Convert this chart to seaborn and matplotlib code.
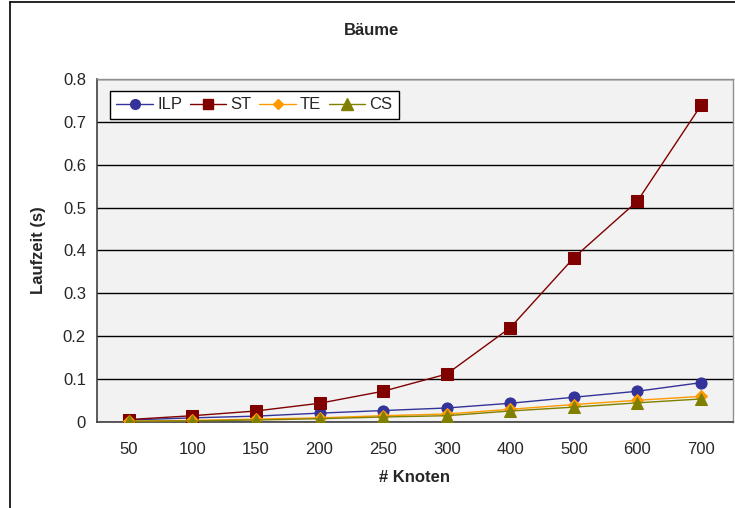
import numpy as np
import pandas as pd
import matplotlib.pyplot as plt
import seaborn as sns
from matplotlib.ticker import FixedLocator
from matplotlib.lines import Line2D

# data
knoten = ['50', '100', '150', '200', '250', '300', '400', '500', '600', '700']
ilp = [0.005, 0.010, 0.014, 0.021, 0.027, 0.033, 0.044, 0.058, 0.072, 0.092]
st = [0.006, 0.015, 0.026, 0.044, 0.072, 0.112, 0.220, 0.383, 0.515, 0.738]
te = [0.002, 0.004, 0.007, 0.010, 0.015, 0.019, 0.030, 0.041, 0.051, 0.060]
cs = [0.002, 0.003, 0.005, 0.008, 0.012, 0.015, 0.026, 0.035, 0.045, 0.054]
algos = ['ILP', 'ST', 'TE', 'CS']
yticks = [0, 0.1, 0.2, 0.3, 0.4, 0.5, 0.6, 0.7, 0.8]
ylabels = ['0', '0.1', '0.2', '0.3', '0.4', '0.5', '0.6', '0.7', '0.8']
colors = {'ILP': '#333399', 'ST': '#800000', 'TE': '#FF9900', 'CS': '#808000'}
markers = {'ILP': 'o', 'ST': 's', 'TE': 'D', 'CS': '^'}
sizes = {'ILP': 8, 'ST': 8, 'TE': 6.5, 'CS': 9}

df = pd.DataFrame({'Knoten': knoten * 4,
                   'Laufzeit': ilp + st + te + cs,
                   'Algo': np.repeat(algos, len(knoten))})

sns.set_style('white')
plt.rcParams['font.family'] = ['Liberation Sans', 'DejaVu Sans']

fig = plt.figure(figsize=(7.35, 5.08), dpi=100)
ax = fig.add_axes([0.132, 0.169, 0.865, 0.676])
ax.set_facecolor('#f2f2f2')

for a in algos:
    sub = df[df['Algo'] == a]
    sns.lineplot(data=sub, x='Knoten', y='Laufzeit', ax=ax, color=colors[a],
                 marker=markers[a], markersize=sizes[a], markeredgecolor=colors[a],
                 linewidth=1, label=a, sort=False, zorder=3)

ax.set_xlim(-0.5, len(knoten) - 0.5)
ax.set_yticks(yticks)
ax.set_yticklabels(ylabels)
ax.set_ylim(0, 0.8)
ax.xaxis.set_minor_locator(FixedLocator(np.arange(-0.5, len(knoten), 1)))
ax.tick_params(axis='x', which='major', length=0, pad=14, labelsize=12)
ax.tick_params(axis='x', which='minor', length=5, width=1, color='black', direction='out')
ax.tick_params(axis='y', length=5, width=1, color='black', direction='out', labelsize=12, pad=3)
ax.grid(axis='y', color='black', linewidth=1)
ax.set_axisbelow(True)
for s in ['left', 'bottom']:
    ax.spines[s].set_color('#404040')
    ax.spines[s].set_linewidth(1.2)
for s in ['top', 'right']:
    ax.spines[s].set_color('#909090')
    ax.spines[s].set_linewidth(1)

ax.set_xlabel('# Knoten', fontsize=12, fontweight='bold', labelpad=10)
ax.set_ylabel('Laufzeit (s)', fontsize=12, fontweight='bold', labelpad=12)
fig.text(0.506, 0.94, 'Bäume', ha='center', va='center', fontsize=12, fontweight='bold')

handles = [Line2D([], [], color=colors[a], marker=markers[a], markersize=sizes[a] - 1,
                  linewidth=1) for a in algos]
leg = ax.legend(handles, algos, loc='upper left', bbox_to_anchor=(0.02, 0.965), ncol=4,
                fontsize=12, frameon=True, fancybox=False, edgecolor='black',
                framealpha=1, borderpad=0.4, handlelength=2.2, handletextpad=0.25,
                columnspacing=0.45, borderaxespad=0)
leg.get_frame().set_linewidth(1)

# chart border
fig.add_artist(Line2D([0.013, 0.013], [0, 0.996], color='black', linewidth=1.2,
                      transform=fig.transFigure))
fig.add_artist(Line2D([0.013, 1], [0.996, 0.996], color='black', linewidth=1.2,
                      transform=fig.transFigure))

fig.savefig('out.png', dpi=100)
